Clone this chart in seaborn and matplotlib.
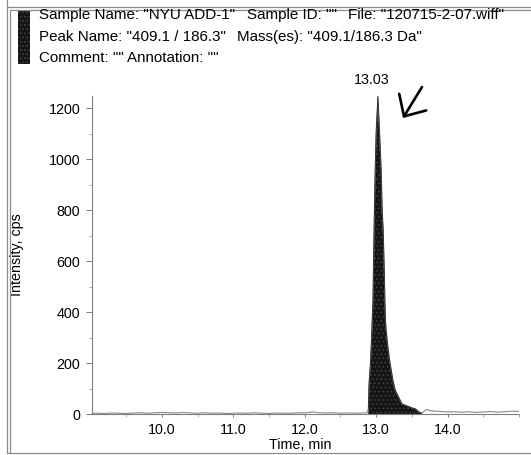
import numpy as np
import pandas as pd
import seaborn as sns
import matplotlib.pyplot as plt
from matplotlib.lines import Line2D
from matplotlib.patches import Rectangle
from matplotlib.ticker import MultipleLocator

# ---------------- data ----------------
header_line1 = ['Sample Name: "NYU ADD-1"', 'Sample ID: ""', 'File: "120715-2-07.wiff"']
header_line2 = ['Peak Name: "409.1 / 186.3"', 'Mass(es): "409.1/186.3 Da"']
header_line3 = ['Comment: ""', 'Annotation: ""']

time_min = [9.00, 9.10, 9.20, 9.30, 9.40, 9.50, 9.60, 9.70, 9.80, 9.90,
            10.00, 10.10, 10.20, 10.30, 10.40, 10.50, 10.60, 10.70, 10.80, 10.90,
            11.00, 11.10, 11.20, 11.30, 11.40, 11.50, 11.60, 11.70, 11.80, 11.90,
            12.00, 12.10, 12.20, 12.30, 12.40, 12.50, 12.60, 12.70, 12.80, 12.87,
            12.89, 12.90, 12.92, 12.94, 12.955, 12.97, 12.985, 13.00, 13.024,
            13.046, 13.07, 13.084, 13.098, 13.112, 13.122, 13.13, 13.14, 13.158,
            13.187, 13.234, 13.266, 13.313, 13.36, 13.40, 13.45, 13.50, 13.55,
            13.60, 13.64, 13.70, 13.75, 13.80, 13.90, 14.00, 14.10, 14.20, 14.30,
            14.40, 14.50, 14.60, 14.70, 14.80, 14.90, 15.00]
intensity_cps = [2, 3, 2, 4, 3, 2, 4, 5, 3, 5,
                 6, 5, 4, 6, 4, 3, 5, 3, 4, 2,
                 3, 4, 3, 5, 3, 2, 4, 3, 3, 5,
                 4, 8, 5, 4, 5, 3, 4, 3, 4, 4,
                 20, 120, 200, 330, 450, 720, 950, 1110, 1245,
                 1114, 957, 800, 722, 576, 447, 368, 329, 278,
                 212, 133, 94, 67, 40, 35, 30, 24, 20,
                 8, 3, 18, 14, 12, 10, 8, 9, 7, 9,
                 6, 8, 10, 7, 9, 11, 10]
peak_start, peak_end = 12.88, 13.64
apex_time, apex_label = 13.024, "13.03"

x_ticks = [10.0, 11.0, 12.0, 13.0, 14.0]
y_ticks = [0, 200, 400, 600, 800, 1000, 1200]

df = pd.DataFrame({"Time, min": time_min, "Intensity, cps": intensity_cps})

# ---------------- style ----------------
sns.set_theme(style="white")
plt.rcParams['font.family'] = ['Liberation Sans', 'DejaVu Sans']
plt.rcParams['hatch.linewidth'] = 0.5

W, H = 531, 455
fig = plt.figure(figsize=(W / 100, H / 100), dpi=100)
fig.patch.set_facecolor('white')

def fx(px):
    return px / W

def fy(py):
    return 1 - py / H

ax = fig.add_axes([fx(92), fy(414), fx(519) - fx(92), fy(96) - fy(414)])
ax.set_facecolor('white')

sns.lineplot(data=df, x="Time, min", y="Intensity, cps", estimator=None, sort=False,
             color='#8a8a8a', lw=0.8, ax=ax)

mask = (df["Time, min"] >= peak_start) & (df["Time, min"] <= peak_end)
ax.fill_between(df["Time, min"][mask], 0, df["Intensity, cps"][mask],
                facecolor='#151515', edgecolor='#4a4a4a', hatch='....', lw=0)
ax.plot(df["Time, min"][mask], df["Intensity, cps"][mask], color='#2a2a2a', lw=0.6)

ax.set_xlim(9.02, 15.0)
ax.set_ylim(0, 1248)
ax.set_xticks(x_ticks)
ax.set_xticklabels([f"{v:.1f}" for v in x_ticks])
ax.set_yticks(y_ticks)
ax.xaxis.set_minor_locator(MultipleLocator(0.5))
ax.yaxis.set_minor_locator(MultipleLocator(100))

for s in ['top', 'right']:
    ax.spines[s].set_visible(False)
for s in ['left', 'bottom']:
    ax.spines[s].set_color('#7f7f7f')
    ax.spines[s].set_linewidth(0.8)

ax.tick_params(axis='y', which='major', direction='out', length=4.5, width=0.7,
               color='#7f7f7f', labelsize=10.3, labelcolor='black', pad=4, left=True)
ax.tick_params(axis='y', which='minor', direction='out', length=2.5, width=0.6,
               color='#9a9a9a', left=True)
ax.tick_params(axis='x', which='major', direction='out', length=2.5, width=0.7,
               color='#7f7f7f', labelsize=10.3, labelcolor='black', pad=4, bottom=True)
ax.tick_params(axis='x', which='minor', direction='out', length=2, width=0.6,
               color='#9a9a9a', bottom=True)

ax.set_xlabel("Time, min", fontsize=10.3, color='black')
ax.set_ylabel("Intensity, cps", fontsize=10.3, color='black')
ax.xaxis.set_label_coords((300 - 92) / 427, (414 - 438) / 318)
ax.yaxis.set_label_coords((24 - 92) / 427, 0.5)

# apex label with leader line
ax.annotate(apex_label, xy=(apex_time, 1245), xytext=(-6, 17), textcoords='offset pixels',
            ha='center', va='center', fontsize=10.3, color='black',
            arrowprops=dict(arrowstyle='-', color='#8a8a8a', lw=0.6, shrinkA=5, shrinkB=1))

# arrow pointing at the peak
ax.annotate('', xy=(403, H - 118), xycoords='figure pixels',
            xytext=(422, H - 87), textcoords='figure pixels',
            arrowprops=dict(arrowstyle='->,head_length=1.0,head_width=0.95',
                            lw=1.9, color='black', shrinkA=0, shrinkB=0))

# header texts
hdr_y = [15, 37, 58]
for line, xs, yy in [(header_line1, [39, 247, 348], hdr_y[0]),
                     (header_line2, [39, 237], hdr_y[1]),
                     (header_line3, [39, 127], hdr_y[2])]:
    for txt, xx in zip(line, xs):
        fig.text(fx(xx), fy(yy), txt, ha='left', va='center', fontsize=10.9, color='black')

# marker bar
fig.patches.append(Rectangle((fx(18), fy(64)), fx(30) - fx(18), fy(10) - fy(64),
                             transform=fig.transFigure, facecolor='#151515',
                             edgecolor='#4a4a4a', hatch='....', lw=0))

# frame lines
fc = '#8c8c8c'
for (x0, y0, x1, y1) in [(7, 0, 7, 453), (9.5, 9.5, 9.5, 453),
                         (7, 7, 531, 7), (9.5, 9.5, 531, 9.5), (7, 453, 531, 453)]:
    fig.add_artist(Line2D([fx(x0), fx(x1)], [fy(y0), fy(y1)], transform=fig.transFigure,
                          color=fc, lw=0.9))

fig.savefig("out.png", dpi=100)
